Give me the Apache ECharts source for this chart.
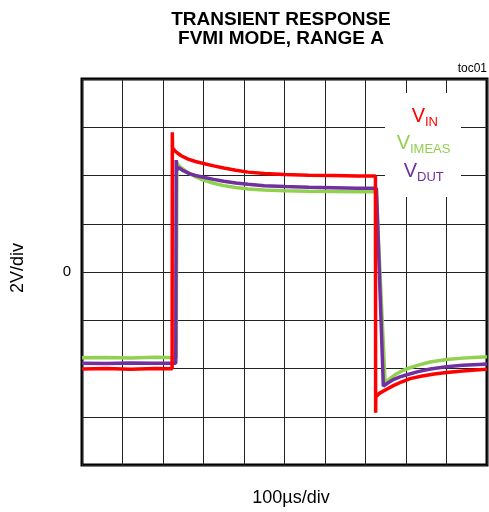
<!DOCTYPE html>
<html>
<head>
<meta charset="utf-8">
<script src="https://cdn.jsdelivr.net/npm/echarts@6/dist/echarts.min.js"></script>
<style>html,body{margin:0;padding:0;background:#fff;}#c{width:489px;height:512px;}</style>
</head>
<body>
<div id="c"></div>
<script>
const titleLines = ['TRANSIENT RESPONSE', 'FVMI MODE, RANGE A'];
const xName = '100µs/div';
const yName = '2V/div';
const yTickLabels = ['0'];

const vinT = [0, 60, 120, 180, 222.5, 223, 223.6, 232, 245, 262, 280, 300, 325, 350, 380, 410, 450, 500, 560, 620, 680, 724.5, 725, 725.6, 735, 750, 770, 790, 810, 840, 870, 900, 940, 980, 1000];
const vinV = [-4.02, -4.0, -4.03, -4.0, -4.01, 5.79, 5.13, 4.98, 4.82, 4.68, 4.58, 4.5, 4.4, 4.31, 4.22, 4.14, 4.08, 4.04, 4.01, 4.0, 3.98, 3.98, -5.83, -5.17, -5.02, -4.88, -4.7, -4.55, -4.42, -4.31, -4.23, -4.17, -4.1, -4.05, -4.03];

const vdutT = [0, 60, 120, 180, 231.5, 232.5, 234, 238, 250, 265, 280, 300, 325, 350, 380, 410, 450, 500, 560, 620, 680, 727, 744, 755, 770, 785, 800, 830, 860, 900, 940, 980, 1000];
const vdutV = [-3.78, -3.79, -3.77, -3.78, -3.78, 4.64, 4.22, 4.33, 4.2, 4.08, 4.0, 3.93, 3.84, 3.76, 3.69, 3.64, 3.58, 3.54, 3.51, 3.49, 3.47, 3.47, -4.73, -4.6, -4.45, -4.35, -4.27, -4.13, -4.02, -3.93, -3.87, -3.83, -3.81];

const vimeasT = [0, 60, 120, 180, 232.5, 234.5, 238, 245, 260, 280, 300, 325, 350, 380, 410, 450, 500, 560, 620, 680, 726.5, 748.5, 760, 775, 790, 805, 830, 860, 900, 940, 980, 1000];
const vimeasV = [-3.55, -3.54, -3.56, -3.53, -3.55, 4.55, 4.42, 4.33, 4.14, 3.95, 3.81, 3.68, 3.58, 3.5, 3.44, 3.4, 3.37, 3.35, 3.34, 3.33, 3.33, -4.61, -4.42, -4.24, -4.1, -4.0, -3.86, -3.73, -3.63, -3.57, -3.53, -3.51];

const zip = (t, v) => t.map((x, i) => [x, v[i]]);
const FONT = '"Liberation Sans", Arial, sans-serif';
const RED = '#ff0000', GREEN = '#92d050', PURPLE = '#7030a0';

const chart = echarts.init(document.getElementById('c'), null, {renderer: 'canvas'});
chart.setOption({
  animation: false,
  backgroundColor: '#fff',
  grid: {left: 82, top: 79, right: 2, bottom: 47, show: true, borderColor: '#000', borderWidth: 3, backgroundColor: 'transparent'},
  xAxis: {
    type: 'value', min: 0, max: 1000, interval: 100,
    axisLine: {show: false}, axisTick: {show: false}, axisLabel: {show: false},
    splitLine: {show: true, lineStyle: {color: '#222', width: 1}}
  },
  yAxis: {
    type: 'value', min: -8, max: 8, interval: 2,
    axisLine: {show: false}, axisTick: {show: false},
    axisLabel: {show: true, margin: 11, fontSize: 15, color: '#000', fontFamily: FONT,
      formatter: v => (v === 0 ? yTickLabels[0] : '')},
    splitLine: {show: true, lineStyle: {color: '#222', width: 1}}
  },
  graphic: [
    {type: 'text', z: 10, style: {x: 281, y: 20, text: titleLines[0], font: 'bold 19px ' + FONT, fill: '#000', textAlign: 'center', textVerticalAlign: 'middle'}},
    {type: 'text', z: 10, style: {x: 281, y: 39, text: titleLines[1], font: 'bold 19px ' + FONT, fill: '#000', textAlign: 'center', textVerticalAlign: 'middle'}},
    {type: 'text', z: 10, style: {x: 487, y: 69, text: 'toc01', font: '12px ' + FONT, fill: '#000', textAlign: 'right', textVerticalAlign: 'middle'}},
    {type: 'text', z: 10, style: {x: 291, y: 498, text: xName, font: '18px ' + FONT, fill: '#000', textAlign: 'center', textVerticalAlign: 'middle'}},
    {type: 'text', z: 10, x: 18, y: 268, rotation: Math.PI / 2, style: {x: 0, y: 0, text: yName, font: '18px ' + FONT, fill: '#000', textAlign: 'center', textVerticalAlign: 'middle'}},
    {type: 'rect', z: 10, shape: {x: 385, y: 93, width: 76, height: 104}, style: {fill: '#fff'}},
    {type: 'text', z: 11, style: {x: 425, y: 116, text: 'V', font: '20px ' + FONT, fill: RED, textAlign: 'right', textVerticalAlign: 'middle'}},
    {type: 'text', z: 11, style: {x: 425, y: 122, text: 'IN', font: '13px ' + FONT, fill: RED, textAlign: 'left', textVerticalAlign: 'middle'}},
    {type: 'text', z: 11, style: {x: 410, y: 143, text: 'V', font: '20px ' + FONT, fill: GREEN, textAlign: 'right', textVerticalAlign: 'middle'}},
    {type: 'text', z: 11, style: {x: 410, y: 149, text: 'IMEAS', font: '13px ' + FONT, fill: GREEN, textAlign: 'left', textVerticalAlign: 'middle'}},
    {type: 'text', z: 11, style: {x: 417, y: 171, text: 'V', font: '20px ' + FONT, fill: PURPLE, textAlign: 'right', textVerticalAlign: 'middle'}},
    {type: 'text', z: 11, style: {x: 417, y: 177, text: 'DUT', font: '13px ' + FONT, fill: PURPLE, textAlign: 'left', textVerticalAlign: 'middle'}}
  ],
  series: [
    {name: 'VIMEAS', type: 'line', data: zip(vimeasT, vimeasV), showSymbol: false, z: 2, lineStyle: {color: GREEN, width: 3.5}},
    {name: 'VDUT', type: 'line', data: zip(vdutT, vdutV), showSymbol: false, z: 3, lineStyle: {color: PURPLE, width: 3.5}},
    {name: 'VIN', type: 'line', data: zip(vinT, vinV), showSymbol: false, z: 4, lineStyle: {color: RED, width: 3.5}}
  ]
});
</script>
</body>
</html>
